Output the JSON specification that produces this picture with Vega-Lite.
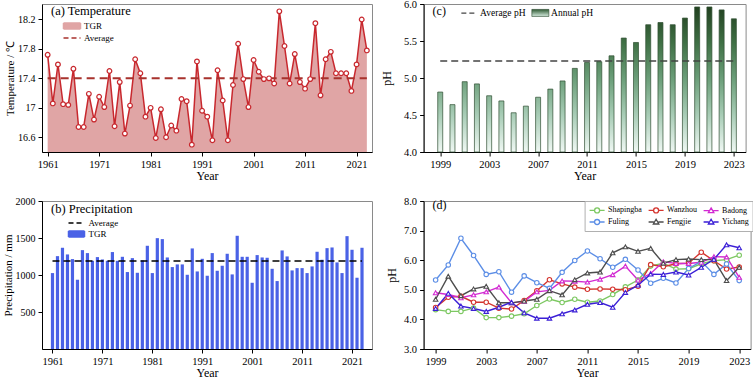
{
  "$schema": "https://vega.github.io/schema/vega-lite/v6.json",
  "background": "white",
  "padding": {"left": 1, "top": -2, "right": 0, "bottom": 0},
  "columns": 2,
  "bounds": "flush",
  "spacing": {"row": 49, "column": 51.6},
  "resolve": {
    "scale": {"color": "independent", "shape": "independent"},
    "legend": {"color": "independent", "shape": "independent"}
  },
  "datasets": {
    "temp": [
      {"year":1961,"temp":17.72},{"year":1962,"temp":17.06},{"year":1963,"temp":17.59},{"year":1964,"temp":17.05},{"year":1965,"temp":17.04},
      {"year":1966,"temp":17.53},{"year":1967,"temp":16.74},{"year":1968,"temp":16.74},{"year":1969,"temp":17.19},{"year":1970,"temp":16.84},
      {"year":1971,"temp":17.15},{"year":1972,"temp":17.01},{"year":1973,"temp":17.50},{"year":1974,"temp":16.75},{"year":1975,"temp":17.35},
      {"year":1976,"temp":16.65},{"year":1977,"temp":17.03},{"year":1978,"temp":17.66},{"year":1979,"temp":17.47},{"year":1980,"temp":16.88},
      {"year":1981,"temp":17.00},{"year":1982,"temp":16.59},{"year":1983,"temp":16.98},{"year":1984,"temp":16.60},{"year":1985,"temp":16.76},
      {"year":1986,"temp":16.69},{"year":1987,"temp":17.12},{"year":1988,"temp":17.09},{"year":1989,"temp":16.50},{"year":1990,"temp":17.63},
      {"year":1991,"temp":16.96},{"year":1992,"temp":16.88},{"year":1993,"temp":16.56},{"year":1994,"temp":17.51},{"year":1995,"temp":17.10},
      {"year":1996,"temp":16.56},{"year":1997,"temp":17.31},{"year":1998,"temp":17.87},{"year":1999,"temp":17.39},{"year":2000,"temp":17.01},
      {"year":2001,"temp":17.65},{"year":2002,"temp":17.49},{"year":2003,"temp":17.39},{"year":2004,"temp":17.40},{"year":2005,"temp":17.33},
      {"year":2006,"temp":18.31},{"year":2007,"temp":17.84},{"year":2008,"temp":17.33},{"year":2009,"temp":17.73},{"year":2010,"temp":17.35},
      {"year":2011,"temp":17.26},{"year":2012,"temp":17.39},{"year":2013,"temp":18.15},{"year":2014,"temp":17.17},{"year":2015,"temp":17.66},
      {"year":2016,"temp":17.76},{"year":2017,"temp":17.47},{"year":2018,"temp":17.47},{"year":2019,"temp":17.47},{"year":2020,"temp":17.23},
      {"year":2021,"temp":17.59},{"year":2022,"temp":18.20},{"year":2023,"temp":17.78}
    ],
    "precip": [
      {"year":1961,"p":1026},{"year":1962,"p":1255},{"year":1963,"p":1368},{"year":1964,"p":1278},{"year":1965,"p":1215},
      {"year":1966,"p":936},{"year":1967,"p":1336},{"year":1968,"p":1296},{"year":1969,"p":1192},{"year":1970,"p":1242},
      {"year":1971,"p":1210},{"year":1972,"p":1192},{"year":1973,"p":1310},{"year":1974,"p":1192},{"year":1975,"p":1246},
      {"year":1976,"p":1040},{"year":1977,"p":1228},{"year":1978,"p":1030},{"year":1979,"p":1197},{"year":1980,"p":1395},
      {"year":1981,"p":1026},{"year":1982,"p":1498},{"year":1983,"p":1485},{"year":1984,"p":1237},{"year":1985,"p":1107},
      {"year":1986,"p":1143},{"year":1987,"p":1143},{"year":1988,"p":1003},{"year":1989,"p":1359},{"year":1990,"p":1048},
      {"year":1991,"p":1219},{"year":1992,"p":990},{"year":1993,"p":1296},{"year":1994,"p":1057},{"year":1995,"p":1125},
      {"year":1996,"p":1287},{"year":1997,"p":1008},{"year":1998,"p":1530},{"year":1999,"p":1246},{"year":2000,"p":1246},
      {"year":2001,"p":895},{"year":2002,"p":1269},{"year":2003,"p":1237},{"year":2004,"p":1233},{"year":2005,"p":1084},
      {"year":2006,"p":918},{"year":2007,"p":1332},{"year":2008,"p":1251},{"year":2009,"p":1062},{"year":2010,"p":1093},
      {"year":2011,"p":1093},{"year":2012,"p":1026},{"year":2013,"p":1116},{"year":2014,"p":1314},{"year":2015,"p":1206},
      {"year":2016,"p":1363},{"year":2017,"p":1372},{"year":2018,"p":1170},{"year":2019,"p":1026},{"year":2020,"p":1525},
      {"year":2021,"p":1341},{"year":2022,"p":963},{"year":2023,"p":1368}
    ],
    "ph": [
      {"year":1999,"ph":4.81},{"year":2000,"ph":4.64},{"year":2001,"ph":4.95},{"year":2002,"ph":4.92},{"year":2003,"ph":4.76},
      {"year":2004,"ph":4.69},{"year":2005,"ph":4.53},{"year":2006,"ph":4.62},{"year":2007,"ph":4.74},{"year":2008,"ph":4.85},
      {"year":2009,"ph":4.96},{"year":2010,"ph":5.13},{"year":2011,"ph":5.21},{"year":2012,"ph":5.22},{"year":2013,"ph":5.30},
      {"year":2014,"ph":5.54},{"year":2015,"ph":5.48},{"year":2016,"ph":5.72},{"year":2017,"ph":5.75},{"year":2018,"ph":5.72},
      {"year":2019,"ph":5.81},{"year":2020,"ph":5.96},{"year":2021,"ph":5.96},{"year":2022,"ph":5.92},{"year":2023,"ph":5.80}
    ],
    "stations": [
      {"year":1999,"station":"Shapingba","ph":4.33},{"year":2000,"station":"Shapingba","ph":4.27},{"year":2001,"station":"Shapingba","ph":4.27},{"year":2002,"station":"Shapingba","ph":4.38},{"year":2003,"station":"Shapingba","ph":4.06},
      {"year":2004,"station":"Shapingba","ph":4.06},{"year":2005,"station":"Shapingba","ph":4.11},{"year":2006,"station":"Shapingba","ph":4.19},{"year":2007,"station":"Shapingba","ph":4.47},{"year":2008,"station":"Shapingba","ph":4.69},
      {"year":2009,"station":"Shapingba","ph":4.57},{"year":2010,"station":"Shapingba","ph":4.68},{"year":2011,"station":"Shapingba","ph":4.58},{"year":2012,"station":"Shapingba","ph":4.62},{"year":2013,"station":"Shapingba","ph":4.84},
      {"year":2014,"station":"Shapingba","ph":5.10},{"year":2015,"station":"Shapingba","ph":5.33},{"year":2016,"station":"Shapingba","ph":5.80},{"year":2017,"station":"Shapingba","ph":5.90},{"year":2018,"station":"Shapingba","ph":5.70},
      {"year":2019,"station":"Shapingba","ph":5.71},{"year":2020,"station":"Shapingba","ph":5.88},{"year":2021,"station":"Shapingba","ph":5.98},{"year":2022,"station":"Shapingba","ph":6.02},{"year":2023,"station":"Shapingba","ph":6.17},

      {"year":1999,"station":"Wanzhou","ph":4.40},{"year":2000,"station":"Wanzhou","ph":4.75},{"year":2001,"station":"Wanzhou","ph":4.78},{"year":2002,"station":"Wanzhou","ph":4.58},{"year":2003,"station":"Wanzhou","ph":4.58},
      {"year":2004,"station":"Wanzhou","ph":4.38},{"year":2005,"station":"Wanzhou","ph":4.35},{"year":2006,"station":"Wanzhou","ph":4.64},{"year":2007,"station":"Wanzhou","ph":4.97},{"year":2008,"station":"Wanzhou","ph":5.34},
      {"year":2009,"station":"Wanzhou","ph":5.20},{"year":2010,"station":"Wanzhou","ph":5.09},{"year":2011,"station":"Wanzhou","ph":5.02},{"year":2012,"station":"Wanzhou","ph":5.03},{"year":2013,"station":"Wanzhou","ph":5.02},
      {"year":2014,"station":"Wanzhou","ph":5.00},{"year":2015,"station":"Wanzhou","ph":5.12},{"year":2016,"station":"Wanzhou","ph":5.85},{"year":2017,"station":"Wanzhou","ph":5.78},{"year":2018,"station":"Wanzhou","ph":5.88},
      {"year":2019,"station":"Wanzhou","ph":5.90},{"year":2020,"station":"Wanzhou","ph":6.27},{"year":2021,"station":"Wanzhou","ph":5.98},{"year":2022,"station":"Wanzhou","ph":5.70},{"year":2023,"station":"Wanzhou","ph":5.77},

      {"year":1999,"station":"Badong","ph":4.90},{"year":2000,"station":"Badong","ph":4.84},{"year":2001,"station":"Badong","ph":4.73},{"year":2002,"station":"Badong","ph":4.83},{"year":2003,"station":"Badong","ph":4.93},
      {"year":2004,"station":"Badong","ph":5.09},{"year":2005,"station":"Badong","ph":4.56},{"year":2006,"station":"Badong","ph":4.61},{"year":2007,"station":"Badong","ph":4.93},{"year":2008,"station":"Badong","ph":4.98},
      {"year":2009,"station":"Badong","ph":5.30},{"year":2010,"station":"Badong","ph":5.29},{"year":2011,"station":"Badong","ph":5.26},{"year":2012,"station":"Badong","ph":5.36},{"year":2013,"station":"Badong","ph":5.51},
      {"year":2014,"station":"Badong","ph":5.80},{"year":2015,"station":"Badong","ph":5.33},{"year":2016,"station":"Badong","ph":5.55},{"year":2017,"station":"Badong","ph":5.95},{"year":2018,"station":"Badong","ph":5.89},
      {"year":2019,"station":"Badong","ph":5.89},{"year":2020,"station":"Badong","ph":5.93},{"year":2021,"station":"Badong","ph":6.12},{"year":2022,"station":"Badong","ph":6.11},{"year":2023,"station":"Badong","ph":5.42},

      {"year":1999,"station":"Fuling","ph":5.33},{"year":2000,"station":"Fuling","ph":5.84},{"year":2001,"station":"Fuling","ph":6.74},{"year":2002,"station":"Fuling","ph":6.16},{"year":2003,"station":"Fuling","ph":5.52},
      {"year":2004,"station":"Fuling","ph":5.61},{"year":2005,"station":"Fuling","ph":4.92},{"year":2006,"station":"Fuling","ph":5.47},{"year":2007,"station":"Fuling","ph":5.24},{"year":2008,"station":"Fuling","ph":5.05},
      {"year":2009,"station":"Fuling","ph":5.59},{"year":2010,"station":"Fuling","ph":5.99},{"year":2011,"station":"Fuling","ph":6.31},{"year":2012,"station":"Fuling","ph":6.05},{"year":2013,"station":"Fuling","ph":5.76},
      {"year":2014,"station":"Fuling","ph":6.03},{"year":2015,"station":"Fuling","ph":5.67},{"year":2016,"station":"Fuling","ph":5.22},{"year":2017,"station":"Fuling","ph":5.39},{"year":2018,"station":"Fuling","ph":5.23},
      {"year":2019,"station":"Fuling","ph":5.72},{"year":2020,"station":"Fuling","ph":5.96},{"year":2021,"station":"Fuling","ph":5.52},{"year":2022,"station":"Fuling","ph":5.87},{"year":2023,"station":"Fuling","ph":5.31},

      {"year":1999,"station":"Fengjie","ph":4.68},{"year":2000,"station":"Fengjie","ph":5.46},{"year":2001,"station":"Fengjie","ph":4.80},{"year":2002,"station":"Fengjie","ph":5.03},{"year":2003,"station":"Fengjie","ph":5.12},
      {"year":2004,"station":"Fengjie","ph":4.56},{"year":2005,"station":"Fengjie","ph":4.56},{"year":2006,"station":"Fengjie","ph":4.62},{"year":2007,"station":"Fengjie","ph":4.68},{"year":2008,"station":"Fengjie","ph":4.97},
      {"year":2009,"station":"Fengjie","ph":4.83},{"year":2010,"station":"Fengjie","ph":5.34},{"year":2011,"station":"Fengjie","ph":5.57},{"year":2012,"station":"Fengjie","ph":5.60},{"year":2013,"station":"Fengjie","ph":6.25},
      {"year":2014,"station":"Fengjie","ph":6.45},{"year":2015,"station":"Fengjie","ph":6.30},{"year":2016,"station":"Fengjie","ph":6.40},{"year":2017,"station":"Fengjie","ph":5.90},{"year":2018,"station":"Fengjie","ph":6.02},
      {"year":2019,"station":"Fengjie","ph":6.04},{"year":2020,"station":"Fengjie","ph":6.02},{"year":2021,"station":"Fengjie","ph":6.02},{"year":2022,"station":"Fengjie","ph":5.31},{"year":2023,"station":"Fengjie","ph":5.76},

      {"year":1999,"station":"Yichang","ph":4.37},{"year":2000,"station":"Yichang","ph":4.88},{"year":2001,"station":"Yichang","ph":4.45},{"year":2002,"station":"Yichang","ph":4.37},{"year":2003,"station":"Yichang","ph":4.27},
      {"year":2004,"station":"Yichang","ph":4.41},{"year":2005,"station":"Yichang","ph":4.58},{"year":2006,"station":"Yichang","ph":4.22},{"year":2007,"station":"Yichang","ph":4.04},{"year":2008,"station":"Yichang","ph":4.04},
      {"year":2009,"station":"Yichang","ph":4.19},{"year":2010,"station":"Yichang","ph":4.32},{"year":2011,"station":"Yichang","ph":4.51},{"year":2012,"station":"Yichang","ph":4.57},{"year":2013,"station":"Yichang","ph":4.41},
      {"year":2014,"station":"Yichang","ph":4.91},{"year":2015,"station":"Yichang","ph":5.16},{"year":2016,"station":"Yichang","ph":5.53},{"year":2017,"station":"Yichang","ph":5.52},{"year":2018,"station":"Yichang","ph":5.60},
      {"year":2019,"station":"Yichang","ph":5.50},{"year":2020,"station":"Yichang","ph":5.76},{"year":2021,"station":"Yichang","ph":6.03},{"year":2022,"station":"Yichang","ph":6.52},{"year":2023,"station":"Yichang","ph":6.42}
    ]
  },
  "concat": [
    {
      "width": 330, "height": 148,
      "title": {"text": "(a) Temperature", "anchor": "start", "frame": "group", "offset": -13, "dx": 9, "fontSize": 12.5},
      "layer": [
        {
          "data": {"name": "temp"},
          "mark": {"type": "area", "clip": true},
          "encoding": {
            "x": {"field": "year", "type": "quantitative", "scale": {"domain": [1959.9, 2024], "nice": false, "zero": false},
                  "axis": {"values": [1961,1971,1981,1991,2001,2011,2021], "format": "d", "title": "Year"}},
            "y": {"field": "temp", "type": "quantitative", "scale": {"domain": [16.4, 18.41], "nice": false, "zero": false},
                  "axis": {"values": [16.6,17,17.4,17.8,18.2], "tickCount": 10, "format": "~g", "title": "Temperature / ℃", "labelOverlap": false, "labelFontSize": 10, "titleFontSize": 11, "titlePadding": 2}},
            "y2": {"datum": 16.4},
            "color": {"datum": "TGR", "type": "nominal",
              "scale": {"domain": ["TGR", "Average"], "range": ["#e0a5a5", "#a8322d"]},
              "legend": {"title": null, "orient": "none", "legendX": 24, "legendY": 16, "padding": 0, "labelFontSize": 9, "rowPadding": -4, "symbolSize": 100, "labelOffset": 6,
                "encode": {"symbols": {"update": {
                  "shape": {"signal": "datum.value === 'Average' ? 'M-1.7,0H1.7' : 'M-1.7,-0.6H1.7V0.6H-1.7Z'"},
                  "fill": {"signal": "datum.value === 'Average' ? 'transparent' : '#e0a5a5'"},
                  "stroke": {"signal": "datum.value === 'Average' ? '#a8322d' : '#c8282e'"},
                  "strokeDash": {"signal": "datum.value === 'Average' ? [5,3] : [1,0]"},
                  "strokeWidth": {"value": 1.5},
                  "opacity": {"value": 1}
                }}}}}
          }
        },
        {
          "data": {"name": "temp"},
          "mark": {"type": "line", "color": "#c8282e", "strokeWidth": 1.5},
          "encoding": {"x": {"field": "year", "type": "quantitative"}, "y": {"field": "temp", "type": "quantitative"}}
        },
        {
          "data": {"values": [{"start": 1961, "end": 2023, "avg": 17.4}]},
          "mark": {"type": "rule", "strokeDash": [8, 5], "strokeWidth": 2},
          "encoding": {"x": {"field": "start", "type": "quantitative"}, "x2": {"field": "end"}, "y": {"field": "avg", "type": "quantitative"}, "color": {"datum": "Average", "type": "nominal"}}
        },
        {
          "data": {"name": "temp"},
          "mark": {"type": "point", "filled": true, "fill": "white", "stroke": "#c8282e", "strokeWidth": 1.2, "size": 22, "opacity": 1},
          "encoding": {"x": {"field": "year", "type": "quantitative"}, "y": {"field": "temp", "type": "quantitative"}}
        }
      ]
    },
    {
      "width": 322, "height": 148,
      "title": {"text": "(c)", "anchor": "start", "frame": "group", "offset": -19, "dx": 9, "fontSize": 12},
      "layer": [
        {
          "data": {"name": "ph"},
          "mark": {"type": "bar", "size": 5,
            "fill": {"gradient": "linear", "x1": 0, "y1": 0, "x2": 0, "y2": 1,
              "stops": [{"offset": 0, "color": "#21401f"}, {"offset": 0.25, "color": "#3f7045"}, {"offset": 0.5, "color": "#6c9f7a"}, {"offset": 0.75, "color": "#a9cdb7"}, {"offset": 1, "color": "#f0f8f4"}]}},
          "encoding": {
            "x": {"field": "year", "type": "quantitative", "scale": {"domain": [1998.05, 2023.55], "nice": false, "zero": false},
                  "axis": {"values": [1999,2003,2007,2011,2015,2019,2023], "format": "d", "title": "Year"}},
            "y": {"datum": 5.97, "type": "quantitative", "scale": {"domain": [4, 6], "nice": false, "zero": false},
                  "axis": {"values": [4,4.5,5,5.5,6], "tickCount": 10, "format": ".1f", "title": "pH", "titlePadding": 10, "labelOverlap": false}},
            "y2": {"datum": 4}
          }
        },
        {
          "data": {"name": "ph"},
          "mark": {"type": "bar", "size": 7, "fill": "white"},
          "encoding": {"x": {"field": "year", "type": "quantitative"}, "y": {"field": "ph", "type": "quantitative"}, "y2": {"datum": 5.975}}
        },
        {
          "data": {"values": [{"start": 1999, "end": 2023, "avg": 5.23}]},
          "mark": {"type": "rule", "strokeDash": [7, 4], "strokeWidth": 1.3},
          "encoding": {"x": {"field": "start", "type": "quantitative"}, "x2": {"field": "end"}, "y": {"field": "avg", "type": "quantitative"},
            "color": {"datum": "Average pH", "type": "nominal",
              "scale": {"domain": ["Average pH", "Annual pH"], "range": ["#444444", "#2f4f32"]},
              "legend": {"title": null, "orient": "none", "direction": "horizontal", "legendX": 41, "legendY": 4, "padding": 0, "labelFontSize": 9.5, "symbolSize": 100, "labelOffset": 6, "columnPadding": 4,
                "encode": {"symbols": {"update": {
                  "shape": {"signal": "datum.value === 'Average pH' ? 'M-1.6,0H1.6' : 'M-1.7,-0.7H1.7V0.7H-1.7Z'"},
                  "fill": {"signal": "datum.value === 'Average pH' ? 'transparent' : {gradient: 'linear', x1: 0, y1: 0, x2: 0, y2: 1, stops: [{offset: 0, color: '#2f5a33'}, {offset: 1, color: '#d8eee2'}]}"},
                  "stroke": {"signal": "datum.value === 'Average pH' ? '#444444' : '#2f4f32'"},
                  "strokeDash": {"signal": "datum.value === 'Average pH' ? [5,3] : [1,0]"},
                  "strokeWidth": {"signal": "datum.value === 'Average pH' ? 1.3 : 0.7"},
                  "opacity": {"value": 1}
                }}}}}
          }
        },
        {
          "data": {"name": "ph"},
          "mark": {"type": "bar", "size": 5, "filled": false, "strokeWidth": 0.7},
          "encoding": {"x": {"field": "year", "type": "quantitative"}, "y": {"field": "ph", "type": "quantitative"}, "y2": {"datum": 4},
            "color": {"datum": "Annual pH", "type": "nominal"}
          }
        }
      ]
    },
    {
      "width": 330, "height": 148,
      "title": {"text": "(b) Precipitation", "anchor": "start", "frame": "group", "offset": -19, "dx": 9, "fontSize": 12.5},
      "layer": [
        {
          "data": {"name": "precip"},
          "mark": {"type": "bar", "size": 3.2},
          "encoding": {
            "x": {"field": "year", "type": "quantitative", "scale": {"domain": [1959.9, 2024], "nice": false, "zero": false},
                  "axis": {"values": [1961,1971,1981,1991,2001,2011,2021], "format": "d", "title": "Year"}},
            "y": {"field": "p", "type": "quantitative", "scale": {"domain": [0, 2000], "nice": false},
                  "axis": {"values": [500,1000,1500,2000], "tickCount": 10, "format": "d", "title": "Precipitation / mm", "labelOverlap": false, "labelFontSize": 10, "titleFontSize": 11, "titlePadding": 2}},
            "color": {"datum": "TGR", "type": "nominal",
              "scale": {"domain": ["Average", "TGR"], "range": ["#000000", "#4a62e6"]},
              "legend": {"title": null, "orient": "none", "legendX": 28.5, "legendY": 16, "padding": 0, "labelFontSize": 9, "rowPadding": 0, "symbolSize": 100, "labelOffset": 6,
                "encode": {"symbols": {"update": {
                  "shape": {"signal": "datum.value === 'Average' ? 'M-1.6,0H1.6' : 'M-1.6,-0.6H1.6V0.6H-1.6Z'"},
                  "fill": {"signal": "datum.value === 'Average' ? 'transparent' : '#4a62e6'"},
                  "stroke": {"signal": "datum.value === 'Average' ? '#000000' : '#4a62e6'"},
                  "strokeDash": {"signal": "datum.value === 'Average' ? [5,3] : [1,0]"},
                  "strokeWidth": {"value": 1.5},
                  "opacity": {"value": 1}
                }}}}}
          }
        },
        {
          "data": {"values": [{"start": 1961, "end": 2023, "avg": 1190}]},
          "mark": {"type": "rule", "strokeDash": [7, 4], "strokeWidth": 1.5},
          "encoding": {"x": {"field": "start", "type": "quantitative"}, "x2": {"field": "end"}, "y": {"field": "avg", "type": "quantitative"}, "color": {"datum": "Average", "type": "nominal"}}
        }
      ]
    },
    {
      "width": 327, "height": 148,
      "title": {"text": "(d)", "anchor": "start", "frame": "group", "offset": -16, "dx": 9, "fontSize": 12},
      "data": {"name": "stations"},
      "layer": [
        {
          "mark": {"type": "line", "strokeWidth": 1.4},
          "encoding": {
            "x": {"field": "year", "type": "quantitative", "scale": {"domain": [1998.05, 2023.9], "nice": false, "zero": false},
                  "axis": {"values": [1999,2003,2007,2011,2015,2019,2023], "format": "d", "title": "Year"}},
            "y": {"field": "ph", "type": "quantitative", "scale": {"domain": [3, 8], "nice": false, "zero": false},
                  "axis": {"values": [3,4,5,6,7,8], "tickCount": 10, "format": ".1f", "title": "pH", "titlePadding": 5, "labelOverlap": false}},
            "color": {"field": "station", "type": "nominal",
              "scale": {"domain": ["Shapingba", "Fuling", "Wanzhou", "Fengjie", "Badong", "Yichang"],
                        "range": ["#7dc862", "#5c8ee6", "#d4352f", "#4d4d4d", "#d22ad2", "#3b1fd6"]},
              "legend": {"title": null, "orient": "none", "legendX": 161, "legendY": 0, "columns": 3, "padding": 3, "strokeColor": "#b0b0b0", "fillColor": "white", "labelFontSize": 8, "rowPadding": 0, "columnPadding": 3, "symbolSize": 100, "symbolOffset": 3.5, "labelOffset": 5,
                "encode": {"symbols": {"update": {
                  "shape": {"signal": "indexof(['Shapingba','Wanzhou','Fuling'], datum.value) >= 0 ? 'M-1.5,0H-0.5M0.5,0H1.5M0.5,0A0.5,0.5,0,1,1,-0.5,0A0.5,0.5,0,1,1,0.5,0' : 'M-1.5,0H-0.45M0.45,0H1.5M0,-0.55L0.55,0.4H-0.55Z'"},
                  "fill": {"value": "white"},
                  "strokeWidth": {"value": 1.3},
                  "opacity": {"value": 1}
                }}}}}
          }
        },
        {
          "transform": [{"filter": {"field": "station", "oneOf": ["Shapingba", "Wanzhou", "Fuling"]}}],
          "mark": {"type": "point", "shape": "circle", "filled": false, "fill": "white", "strokeWidth": 1.1, "size": 20, "opacity": 1},
          "encoding": {
            "x": {"field": "year", "type": "quantitative"},
            "y": {"field": "ph", "type": "quantitative"},
            "color": {"field": "station", "type": "nominal", "legend": null}
          }
        },
        {
          "transform": [{"filter": {"field": "station", "oneOf": ["Badong", "Fengjie", "Yichang"]}}],
          "mark": {"type": "point", "shape": "triangle-up", "filled": false, "fill": "white", "strokeWidth": 1.1, "size": 20, "opacity": 1},
          "encoding": {
            "x": {"field": "year", "type": "quantitative"},
            "y": {"field": "ph", "type": "quantitative"},
            "color": {"field": "station", "type": "nominal", "legend": null}
          }
        }
      ]
    }
  ],
  "config": {
    "font": "Liberation Serif",
    "view": {"stroke": "#8a8a8a", "strokeWidth": 1},
    "axis": {"grid": false, "domainColor": "#000000", "tickColor": "#000000", "labelColor": "#000000", "titleColor": "#000000",
             "labelFont": "Liberation Serif", "titleFont": "Liberation Serif", "labelFontSize": 10.5, "titleFontSize": 12,
             "titleFontWeight": "normal", "tickSize": 4, "labelPadding": 3, "titlePadding": 1, "labelFlush": false, "labelOverlap": false},
    "legend": {"labelFont": "Liberation Serif", "labelColor": "#000000"},
    "title": {"font": "Liberation Serif", "fontWeight": "normal", "color": "#000000"}
  }
}
